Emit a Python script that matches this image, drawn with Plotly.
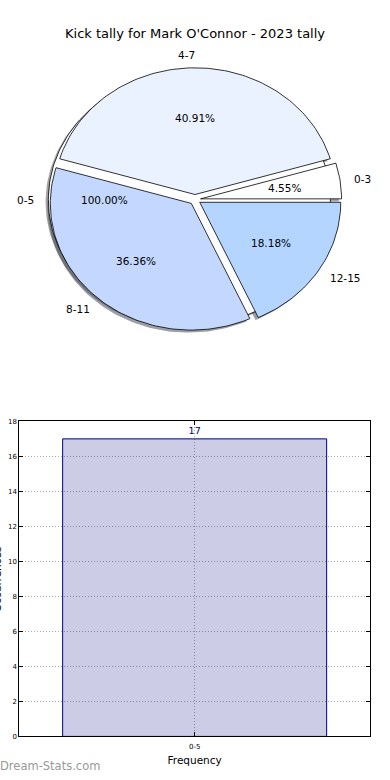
import math
import plotly.graph_objects as go

# ---------------- data ----------------
pie_labels = ["0-3", "4-7", "8-11", "12-15"]
pie_values = [1, 9, 8, 4]
pie_colors = ["#ffffff", "#eaf1ff", "#c4d8ff", "#b3d5ff"]

under_labels = ["0-5"]
under_values = [17]
under_colors = ["#ffffff"]

bar_categories = ["0-5"]
bar_values = [17]

title_text = "Kick tally for Mark O'Connor - 2023 tally"
xaxis_title = "Frequency"
yaxis_title = "Occurrences"
watermark = "Dream-Stats.com"

# ---------------- style ----------------
W, H = 390, 780
FONT = "DejaVu Sans"
EXPLODE = 0.04
SHADOW_OFF = (-0.02, -0.02)
LABEL_R = 1.1
PCT_R = 0.6

# pie axis pixel mapping (elliptical like the original matplotlib output)
PCX, PCY, PRX, PRY = 195.0, 197.6, 141.0, 128.0
pie_xrange = [-PCX / PRX, (W - PCX) / PRX]
pie_yrange = [(PCY - H / 2) / PRY, PCY / PRY]

# bar axis pixel box
BX0, BX1, BY0, BY1 = 19.3, 370.0, 421.7, 740.0


def rgb(h):
    h = h.lstrip("#")
    return tuple(int(h[i:i + 2], 16) for i in (0, 2, 4))


def wedges(values, start=0.0):
    tot = float(sum(values))
    out = []
    t = start
    for v in values:
        span = 360.0 * v / tot
        out.append((t, t + span, 100.0 * v / tot))
        t += span
    return out


def wedge_xy(t1, t2, cx, cy, full):
    n = max(8, int(abs(t2 - t1) / 1.5))
    xs, ys = [], []
    if not full:
        xs.append(cx)
        ys.append(cy)
    for i in range(n + 1):
        a = math.radians(t1 + (t2 - t1) * i / n)
        xs.append(cx + math.cos(a))
        ys.append(cy + math.sin(a))
    if not full:
        xs.append(cx)
        ys.append(cy)
    return xs, ys


fig = go.Figure()

pies = [(under_labels, under_values, under_colors), (pie_labels, pie_values, pie_colors)]
geo = []
for labels, values, colors in pies:
    for (t1, t2, pct), lab, col in zip(wedges(values), labels, colors):
        mid = math.radians((t1 + t2) / 2)
        cx, cy = EXPLODE * math.cos(mid), EXPLODE * math.sin(mid)
        full = abs(t2 - t1) >= 359.999
        geo.append((t1, t2, pct, lab, col, mid, cx, cy, full))

# shadows first
for t1, t2, pct, lab, col, mid, cx, cy, full in geo:
    xs, ys = wedge_xy(t1, t2, cx + SHADOW_OFF[0], cy + SHADOW_OFF[1], full)
    r, g, b = rgb(col)
    fig.add_trace(go.Scatter(
        x=xs, y=ys, mode="lines", fill="toself",
        fillcolor=f"rgba({int(r*0.3)},{int(g*0.3)},{int(b*0.3)},0.5)",
        line=dict(width=0), hoverinfo="skip", showlegend=False,
        xaxis="x", yaxis="y"))

# wedges
for t1, t2, pct, lab, col, mid, cx, cy, full in geo:
    xs, ys = wedge_xy(t1, t2, cx, cy, full)
    fig.add_trace(go.Scatter(
        x=xs, y=ys, mode="lines", fill="toself", fillcolor=col,
        line=dict(color="black", width=0.8), hoverinfo="skip",
        showlegend=False, xaxis="x", yaxis="y"))

annotations = []
for t1, t2, pct, lab, col, mid, cx, cy, full in geo:
    lx = cx + LABEL_R * math.cos(mid)
    ly = cy + LABEL_R * math.sin(mid)
    annotations.append(dict(
        x=lx, y=ly, xref="x", yref="y", text=lab, showarrow=False,
        xanchor="left" if lx > 0 else "right", yanchor="middle",
        borderpad=0, borderwidth=0,
        font=dict(family=FONT, size=10.5, color="black")))
    px = cx + PCT_R * math.cos(mid)
    py = cy + PCT_R * math.sin(mid)
    annotations.append(dict(
        x=px, y=py, xref="x", yref="y", text=f"{pct:.2f}%", showarrow=False,
        xanchor="center", yanchor="middle", borderpad=0, borderwidth=0,
        font=dict(family=FONT, size=10.5, color="black")))

# bar chart
bar_x = list(range(len(bar_categories)))
fig.add_trace(go.Bar(
    x=bar_x, y=bar_values, width=0.8,
    marker=dict(color="rgba(0,0,128,0.2)", line=dict(color="navy", width=1)),
    text=[str(v) for v in bar_values], textposition="outside",
    textfont=dict(family=FONT, size=9.5, color="navy"), cliponaxis=False,
    hoverinfo="skip", showlegend=False, xaxis="x2", yaxis="y2"))

half = (BX1 - BX0) / 2 / (264.0 / 0.8)

annotations += [
    dict(x=0.5, y=1 - 30 / H, xref="paper", yref="paper", text=title_text,
         showarrow=False, xanchor="center", yanchor="middle",
         font=dict(family=FONT, size=13, color="black")),
    dict(x=-3 / W, y=1 - 581 / H, xref="paper", yref="paper", text=yaxis_title,
         showarrow=False, textangle=-90, xanchor="center", yanchor="middle",
         font=dict(family=FONT, size=10.5, color="black")),
    dict(x=-1 / W, y=1 - 770 / H, xref="paper", yref="paper", text=watermark,
         showarrow=False, xanchor="left", yanchor="middle", borderpad=0,
         font=dict(family=FONT, size=11.5, color="#999999")),
]

axis_common = dict(showline=True, linecolor="black", linewidth=1, mirror="ticks",
                   ticks="inside", ticklen=4, tickcolor="black",
                   tickfont=dict(family=FONT, size=7, color="black"),
                   showgrid=True, gridcolor="#aaaaaa", griddash="1px,2px", gridwidth=1,
                   zeroline=False, fixedrange=True)

fig.update_layout(
    width=W, height=H, margin=dict(l=0, r=0, t=0, b=0),
    paper_bgcolor="white", plot_bgcolor="white",
    xaxis=dict(domain=[0, 1], range=pie_xrange, visible=False, fixedrange=True),
    yaxis=dict(domain=[0.5, 1], range=pie_yrange, visible=False, fixedrange=True),
    xaxis2=dict(domain=[BX0 / W, BX1 / W], anchor="y2", range=[-half, half],
                tickvals=bar_x, ticktext=bar_categories, ticklabelstandoff=3,
                title=dict(text=xaxis_title, standoff=6,
                           font=dict(family=FONT, size=10.5, color="black")),
                **axis_common),
    yaxis2=dict(domain=[1 - BY1 / H, 1 - BY0 / H], anchor="x2", range=[0, 18],
                tickvals=list(range(0, 19, 2)), **axis_common),
    annotations=annotations,
    showlegend=False,
)

fig.write_html("out.html", config={"displayModeBar": False},
               post_script="document.body.style.margin='0';document.body.style.overflow='hidden';")
